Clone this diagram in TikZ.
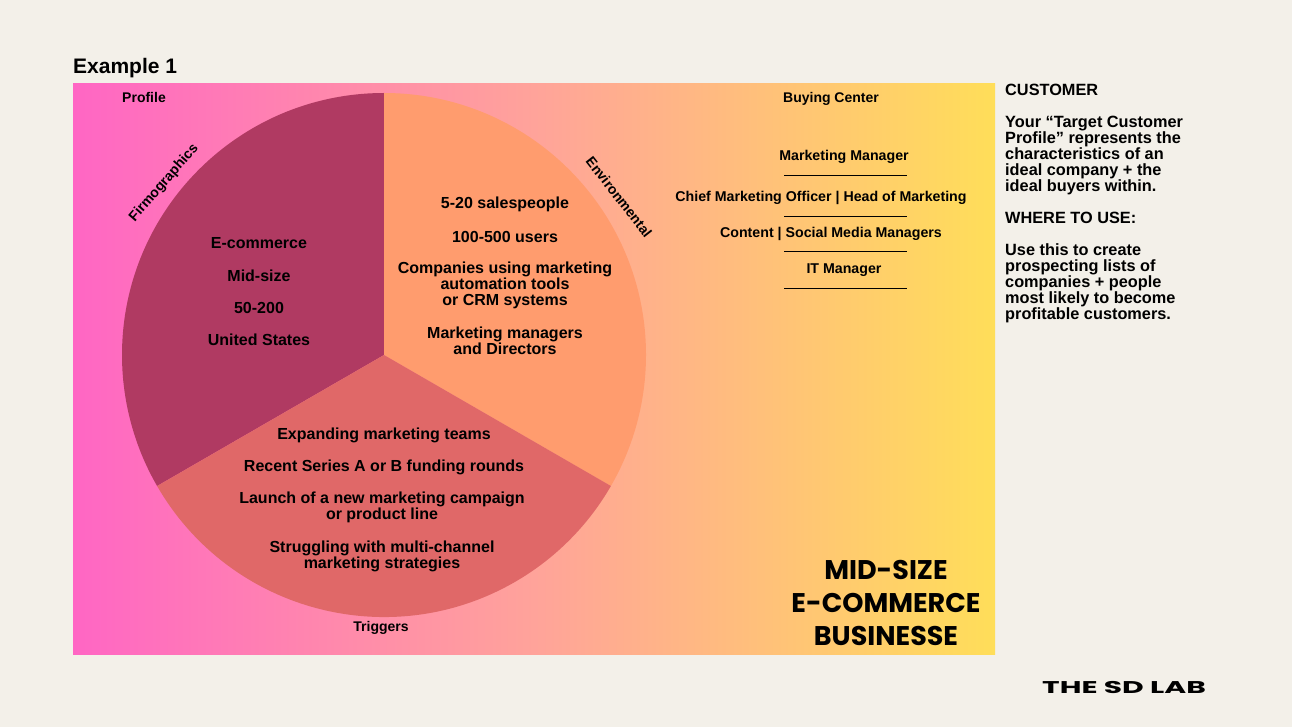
\documentclass[tikz,border=0pt]{standalone}
\usepackage{fontspec}
\setmainfont{Liberation Sans}
\newfontfamily\pop{Poppins}
\definecolor{bg}{HTML}{F3F0E9}
\definecolor{gpink}{HTML}{FF66C4}
\definecolor{gmid}{HTML}{FFA39A}
\definecolor{gyel}{HTML}{FFDE59}
\definecolor{firmo}{HTML}{B03A62}
\definecolor{envir}{HTML}{FF9C6E}
\definecolor{trig}{HTML}{E06868}
\tikzset{
  lbl/.style={font=\bfseries\fontsize{14}{16}\selectfont, text=black, inner sep=0pt},
  pietxt/.style={font=\bfseries\fontsize{16}{16}\selectfont, text=black, align=center, inner sep=0pt},
  bctxt/.style={font=\bfseries\fontsize{14.2}{16}\selectfont, text=black, inner sep=0pt},
  bcline/.style={line width=0.8pt, black},
  big/.style={font=\pop\bfseries\fontsize{27}{33}\selectfont, text=black, align=center, inner sep=0pt},
}
\begin{document}
\begin{tikzpicture}[x=1pt,y=1pt]
\fill[bg] (0,0) rectangle (1292,-727);
\useasboundingbox (0,0) rectangle (1292,-727);
% gradient panel
\shade[left color=gpink, right color=gyel, middle color=gmid] (73,-84) rectangle (995,-654);
% pie
\coordinate (c) at (384,-355);
\fill[firmo] (c) -- ++(90:262) arc[start angle=90, end angle=210, radius=262] -- cycle;
\fill[envir] (c) -- ++(90:262) arc[start angle=90, end angle=-30, radius=262] -- cycle;
\fill[trig] (c) -- ++(210:262) arc[start angle=210, end angle=330, radius=262] -- cycle;
% title
\node[anchor=west, font=\bfseries\fontsize{21}{24}\selectfont, inner sep=0pt] (title) at (73,-68) {Example 1};
% labels
\node[lbl] (profile) at (144,-97) {Profile};
\node[lbl, rotate=49] (firmlbl) at (164,-183) {Firmographics};
\node[lbl, rotate=-52] (envlbl) at (619,-197) {Environmental};
\node[lbl] (triglbl) at (381,-628) {Triggers};
\node[lbl] (bclbl) at (831,-99) {Buying Center};
% firmographics text
\node[pietxt] (f1) at (259,-243) {E-commerce};
\node[pietxt] (f2) at (259,-276) {Mid-size};
\node[pietxt] (f3) at (259,-308) {50-200};
\node[pietxt] (f4) at (259,-340) {United States};
% environmental text
\node[pietxt] (e1) at (505,-204) {5-20 salespeople};
\node[pietxt] (e2) at (505,-237) {100-500 users};
\node[pietxt] (e3) at (505,-285) {Companies using marketing\\automation tools\\or CRM systems};
\node[pietxt] (e4) at (505,-341) {Marketing managers\\and Directors};
% triggers text
\node[pietxt] (t1) at (384,-435) {Expanding marketing teams};
\node[pietxt] (t2) at (384,-467) {Recent Series A or B funding rounds};
\node[pietxt] (t3) at (382,-507) {Launch of a new marketing campaign\\or product line};
\node[pietxt] (t4) at (382,-556) {Struggling with multi-channel\\marketing strategies};
% buying center
\node[bctxt] (b1) at (844,-157) {Marketing Manager};
\node[bctxt] (b2) at (821,-198) {Chief Marketing Officer | Head of Marketing};
\node[bctxt] (b3) at (831,-234) {Content | Social Media Managers};
\node[bctxt] (b4) at (844,-270) {IT Manager};
\coordinate (l1a) at (784,-175); \coordinate (l1b) at (907,-175);
\coordinate (l2a) at (784,-216); \coordinate (l2b) at (907,-216);
\coordinate (l3a) at (784,-251); \coordinate (l3b) at (907,-251);
\coordinate (l4a) at (784,-288); \coordinate (l4b) at (907,-288);
\draw[bcline] (l1a) -- (l1b);
\draw[bcline] (l2a) -- (l2b);
\draw[bcline] (l3a) -- (l3b);
\draw[bcline] (l4a) -- (l4b);
% big title
\node[big] (bigt) at (886,-603) {MID-SIZE\\E-COMMERCE\\BUSINESSE};
% right text
\node[anchor=north west, align=left, inner sep=0pt, font=\bfseries\fontsize{16.3}{16}\selectfont] (side) at (1005,-84)
{CUSTOMER\\[16pt]
Your “Target Customer\\
Profile” represents the\\
characteristics of an\\
ideal company + the\\
ideal buyers within.\\[16pt]
WHERE TO USE:\\[16pt]
Use this to create\\
prospecting lists of\\
companies + people\\
most likely to become\\
profitable customers.};
% logo
\node[font=\pop\bfseries\fontsize{17}{20}\selectfont, inner sep=0pt, xscale=1.75] (logo) at (1124,-688) {THE SD LAB};
\end{tikzpicture}
\end{document}
